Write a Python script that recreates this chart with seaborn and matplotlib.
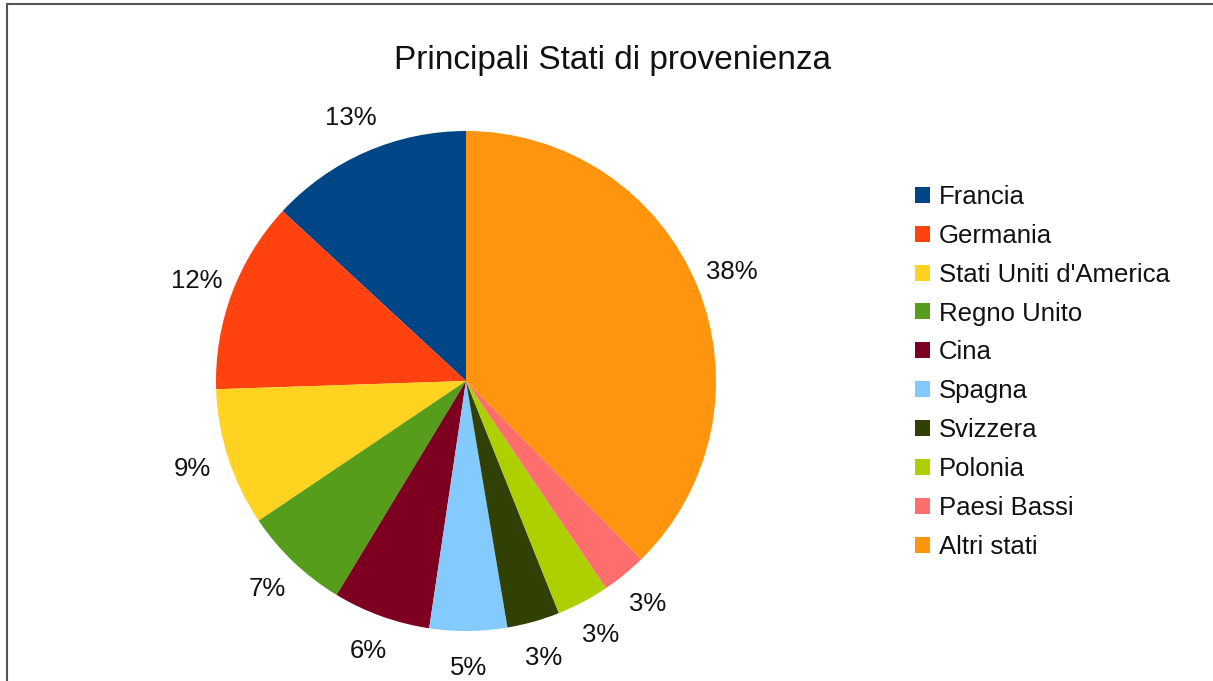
import numpy as np
import matplotlib.pyplot as plt
import seaborn as sns
from matplotlib.lines import Line2D

# Data
countries = ['Francia', 'Germania', "Stati Uniti d'America", 'Regno Unito', 'Cina',
             'Spagna', 'Svizzera', 'Polonia', 'Paesi Bassi', 'Altri stati']
shares = [13.1, 12.4, 8.9, 6.9, 6.3, 5.0, 3.4, 3.4, 2.9, 37.6]
colors = ['#004586', '#ff420e', '#ffd320', '#579d1c', '#7e0021',
          '#83caff', '#314004', '#aecf00', '#ff6d6d', '#ff950e']

sns.set_theme(style='white')
plt.rcParams['font.family'] = ['Liberation Sans', 'DejaVu Sans']

W, H = 1213, 681
fig = plt.figure(figsize=(W / 100, H / 100), dpi=100)

# pie area: center (466, 381), radius 250 px
cx, cy, r = 466, 381, 250
ax = fig.add_axes([(cx - r) / W, (H - cy - r) / H, 2 * r / W, 2 * r / H])
wedges, texts, autotexts = ax.pie(
    shares, colors=colors, startangle=90, counterclock=True,
    autopct=lambda p: f'{p:.0f}%', pctdistance=1.15,
    textprops={'fontsize': 18.5, 'color': '#111111'},
    wedgeprops={'linewidth': 0})
ax.set_xlim(-1, 1)
ax.set_ylim(-1, 1)
ax.set_aspect('equal')
ax.axis('off')

fig.text(612 / W, 1 - 60 / H, 'Principali Stati di provenienza',
         ha='center', va='center', fontsize=24, color='#111111')

fig.legend(wedges, countries, loc='upper left',
           bbox_to_anchor=(902 / W, 1 - 172 / H), frameon=False,
           fontsize=18.5, handlelength=0.58, handleheight=0.58,
           handletextpad=0.35, labelspacing=0.58, borderpad=0,
           labelcolor='#111111')

# chart border (top and left visible)
fig.add_artist(Line2D([7 / W, 7 / W], [0, 1 - 4 / H], transform=fig.transFigure,
                      color='#555555', lw=1.5))
fig.add_artist(Line2D([7 / W, 1], [1 - 4 / H, 1 - 4 / H], transform=fig.transFigure,
                      color='#555555', lw=1.5))

fig.savefig('out.png', dpi=100)
